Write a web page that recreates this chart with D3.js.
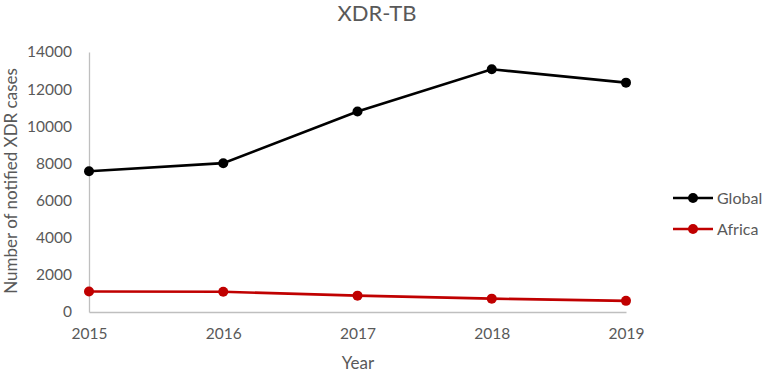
<!DOCTYPE html>
<html lang="en">
<head>
  <meta charset="UTF-8">
  <title>XDR-TB</title>
  <style>
    body { margin: 0; background: #fff; }
    #main { width: 765px; height: 372px; }
    text { font-family: Lato, "Open Sans", sans-serif; fill: #595959; }
  </style>
</head>
<body>
  <div id="main"></div>
  <script src="https://d3js.org/d3.v7.min.js"></script>
  <script>
    // data
    const years = [2015, 2016, 2017, 2018, 2019]
    const globalCases = [7579, 8014, 10800, 13068, 12350]
    const africaCases = [1100, 1090, 880, 720, 600]
    const yTicks = [0, 2000, 4000, 6000, 8000, 10000, 12000, 14000]

    const series = [
      { name: 'Global', values: globalCases, color: '#000000' },
      { name: 'Africa', values: africaCases, color: '#c00000' }
    ]

    const [width, height] = [765, 372]
    const svg = d3.select('#main').append('svg')
      .attr('width', width)
      .attr('height', height)

    const x = d3.scalePoint().domain(years).range([89, 626])
    const y = d3.scaleLinear().domain([0, 14000]).range([312, 52])

    // axes
    const xAxis = svg.append('g')
      .attr('transform', `translate(0,${y(0)})`)
      .call(d3.axisBottom(x).tickSize(0).tickPadding(16))
    xAxis.select('.domain').attr('stroke', '#bfbfbf').attr('stroke-width', 1.3)
    xAxis.selectAll('text').style('font-size', '15.5px').attr('fill', '#595959')

    const yAxis = svg.append('g')
      .attr('transform', `translate(${x(years[0])},0)`)
      .call(d3.axisLeft(y).tickValues(yTicks).tickSize(0).tickPadding(17).tickFormat(d3.format('d')))
    yAxis.select('.domain').attr('stroke', '#bfbfbf').attr('stroke-width', 1.3)
    yAxis.selectAll('text').style('font-size', '15.5px').attr('fill', '#595959')

    // title and axis labels
    svg.append('text').attr('x', 377).attr('y', 21)
      .attr('text-anchor', 'middle').style('font-size', '22px').text('XDR-TB')
    svg.append('text').attr('x', 358).attr('y', 369)
      .attr('text-anchor', 'middle').style('font-size', '17px').text('Year')
    svg.append('text')
      .attr('transform', 'translate(17,181) rotate(-90)')
      .attr('text-anchor', 'middle').style('font-size', '17px')
      .text('Number of notified XDR cases')

    // lines
    const line = d3.line().x((d, i) => x(years[i])).y(d => y(d))
    series.forEach(s => {
      svg.append('path').datum(s.values)
        .attr('fill', 'none').attr('stroke', s.color).attr('stroke-width', 2.6)
        .attr('d', line)
      svg.append('g').selectAll('circle').data(s.values).join('circle')
        .attr('cx', (d, i) => x(years[i])).attr('cy', d => y(d))
        .attr('r', 5).attr('fill', s.color)
    })

    // legend
    const legend = svg.append('g').selectAll('g').data(series).join('g')
      .attr('transform', (d, i) => `translate(673,${198 + i * 31})`)
    legend.append('line').attr('x1', 0).attr('x2', 40)
      .attr('stroke', d => d.color).attr('stroke-width', 2.6)
    legend.append('circle').attr('cx', 20).attr('r', 5).attr('fill', d => d.color)
    legend.append('text').attr('x', 44).attr('dy', '0.35em')
      .style('font-size', '16px').text(d => d.name)
  </script>
</body>
</html>
